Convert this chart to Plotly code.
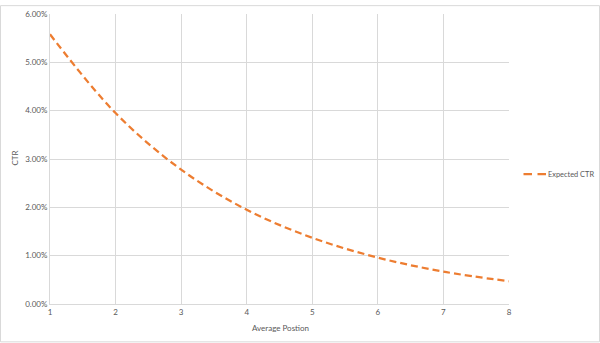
import plotly.graph_objects as go

positions = [1, 2, 3, 4, 5, 6, 7, 8]
expected_ctr = [0.0558, 0.0395, 0.0278, 0.0195, 0.0137, 0.0096, 0.0067, 0.0047]
series_name = "Expected CTR"
x_title = "Average Postion"
y_title = "CTR"

W, H = 600, 343
ml, mr, mt, mb = 50, 91, 9, 39
pw, ph = W - ml - mr, H - mt - mb


def px(x):
    return (x - ml) / pw


def py(y):
    return (H - mb - y) / ph


LINE_COLOR = "#ED7D31"
DASH = "7px,4px"
font = dict(family="Lato, Open Sans, sans-serif", size=8, color="#595959")
legend_font = dict(family="Lato, Open Sans, sans-serif", size=7.4, color="#595959")

fig = go.Figure()
fig.add_trace(go.Scatter(
    x=positions, y=expected_ctr, mode="lines", name=series_name,
    line=dict(color=LINE_COLOR, width=2.25, dash=DASH, shape="spline"),
    showlegend=False,
))

fig.update_layout(
    width=W, height=H,
    margin=dict(l=ml, r=mr, t=mt, b=mb),
    paper_bgcolor="white", plot_bgcolor="white",
    font=font,
    showlegend=False,
    xaxis=dict(range=[1, 8], tickmode="array", tickvals=positions,
               showgrid=True, gridcolor="#d9d9d9", gridwidth=1,
               showline=True, linecolor="#d9d9d9", linewidth=1,
               zeroline=False, ticks="", tickfont=font),
    yaxis=dict(range=[0, 0.06], dtick=0.01, tickformat=".2%",
               showgrid=True, gridcolor="#d9d9d9", gridwidth=1,
               showline=True, linecolor="#d9d9d9", linewidth=1,
               zeroline=False, ticks="", tickfont=font),
    annotations=[
        dict(text=x_title, xref="paper", yref="paper",
             x=px(280), y=py(328), showarrow=False,
             font=font, xanchor="center", yanchor="middle"),
        dict(text=y_title, xref="paper", yref="paper",
             x=px(15), y=py(156), showarrow=False,
             font=font, textangle=-90, xanchor="center", yanchor="middle"),
        dict(text=series_name, xref="paper", yref="paper",
             x=px(546), y=py(172), showarrow=False,
             font=legend_font, xanchor="left", yanchor="middle"),
    ],
    shapes=[
        dict(type="rect", xref="paper", yref="paper",
             x0=px(0.5), x1=px(W - 0.5), y0=py(H - 0.5), y1=py(0.5),
             line=dict(color="#d9d9d9", width=1), layer="below"),
        dict(type="line", xref="paper", yref="paper",
             x0=px(523.5), x1=px(546), y0=py(172), y1=py(172),
             line=dict(color=LINE_COLOR, width=2.25, dash="8.5px,5.5px")),
    ],
)

fig.write_html("out.html")
